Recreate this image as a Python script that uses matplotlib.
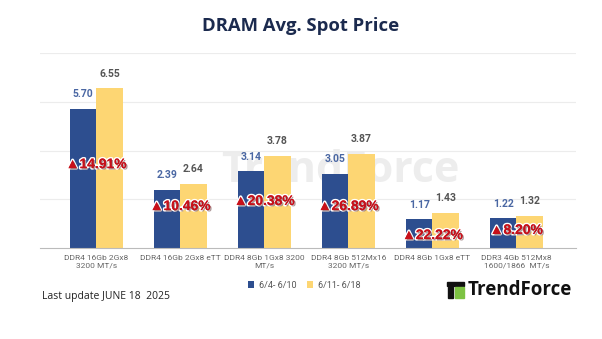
import matplotlib
matplotlib.use("Agg")
import matplotlib.pyplot as plt
import matplotlib.patheffects as pe
from matplotlib.patches import Rectangle
import numpy as np

categories = ["DDR4 16Gb 2Gx8\n3200 MT/s", "DDR4 16Gb 2Gx8 eTT", "DDR4 8Gb 1Gx8 3200\nMT/s",
              "DDR4 8Gb 512Mx16\n3200 MT/s", "DDR4 8Gb 1Gx8 eTT", "DDR3 4Gb 512Mx8\n1600/1866  MT/s"]
week1 = [5.70, 2.39, 3.14, 3.05, 1.17, 1.22]
week2 = [6.55, 2.64, 3.78, 3.87, 1.43, 1.32]
changes = [14.91, 10.46, 20.38, 26.89, 22.22, 8.20]
series_labels = ["6/4- 6/10", "6/11- 6/18"]

# where the red change labels sit (data y)
change_label_y = [3.44, 1.72, 1.93, 1.72, 0.53, 0.74]

BLUE = "#2d4e8f"
YELLOW = "#fdd673"
RED = "#c8101a"

plt.rcParams['font.family'] = ['Roboto', 'DejaVu Sans']

fig = plt.figure(figsize=(6.02, 3.39), dpi=100)
ax = fig.add_axes([40 / 602, 1 - 248 / 339, 536 / 602, 195 / 339])

x = np.arange(len(categories))
w = 0.315

# faint watermark behind bars
ax.text(0.56, 0.40, "TrendForce", transform=ax.transAxes, fontsize=31, fontweight='bold',
        color="#ededed", ha='center', va='center', zorder=0, family=['Open Sans', 'DejaVu Sans'])

b1 = ax.bar(x - w / 2, week1, w, color=BLUE, zorder=2, label=series_labels[0])
b2 = ax.bar(x + w / 2, week2, w, color=YELLOW, zorder=2, label=series_labels[1])

for xi, v in zip(x, week1):
    ax.annotate("%.2f" % v, (xi - w / 2, v), xytext=(0, 7), textcoords='offset points',
                ha='center', va='bottom', fontsize=7.5, fontweight='bold', color="#4a67a3")
for xi, v in zip(x, week2):
    ax.annotate("%.2f" % v, (xi + w / 2, v), xytext=(0, 7), textcoords='offset points',
                ha='center', va='bottom', fontsize=7.5, fontweight='bold', color="#555555")

for xi, c, yy in zip(x, changes, change_label_y):
    ax.text(xi, yy, "▲%.2f%%" % c, ha='center', va='center', fontsize=10, fontweight='bold',
            color=RED, zorder=5, family=['Liberation Sans', 'DejaVu Sans'],
            path_effects=[pe.withStroke(linewidth=2.2, foreground='white'),
                          pe.SimplePatchShadow(offset=(1, -1), alpha=0.4), pe.Normal()])

ax.set_xlim(-0.67, 5.71)
ax.set_ylim(0, 8)
ax.set_yticks([2, 4, 6, 8])
ax.yaxis.grid(True, color="#ececec", linewidth=0.8, zorder=0)
ax.set_axisbelow(True)
ax.tick_params(axis='y', left=False, labelleft=False)
ax.tick_params(axis='x', length=0, pad=5)
ax.set_xticks(x)
ax.set_xticklabels(categories, fontsize=6.0, color="#666666", linespacing=1.35)
for s in ["top", "right", "left"]:
    ax.spines[s].set_visible(False)
ax.spines["bottom"].set_color("#bbbbbb")
ax.spines["bottom"].set_linewidth(0.8)

fig.text(0.5, 1 - 26 / 339, "DRAM Avg. Spot Price", ha='center', va='center', fontsize=13.3,
         fontweight='bold', color="#1b2a4e", family=['Open Sans', 'DejaVu Sans'])

fig.legend(handles=[b1, b2], labels=series_labels, loc='center', bbox_to_anchor=(304 / 602, 1 - 285 / 339),
           ncol=2, frameon=False, fontsize=6.5, handlelength=0.7, handleheight=0.7,
           handletextpad=0.5, columnspacing=1.2, labelcolor="#555555")

fig.text(42 / 602, 1 - 296 / 339, "Last update JUNE 18  2025", ha='left', va='center', fontsize=7.5,
         color="#222222", family=['Open Sans', 'DejaVu Sans'])

# TrendForce logo, bottom right
fig.add_artist(Rectangle((447 / 602, 1 - 286 / 339), 17 / 602, 4 / 339, transform=fig.transFigure,
                         color="#111111"))
fig.add_artist(Rectangle((448 / 602, 1 - 298 / 339), 5 / 602, 11 / 339, transform=fig.transFigure,
                         color="#111111"))
fig.add_artist(Rectangle((455 / 602, 1 - 298 / 339), 9 / 602, 11 / 339, transform=fig.transFigure,
                         color="#7cc242"))
fig.text(468 / 602, 1 - 290 / 339, "TrendForce", ha='left', va='center', fontsize=13.5,
         fontweight='bold', color="#111111", family=['Open Sans', 'DejaVu Sans'])

fig.savefig("out.png", dpi=100)
